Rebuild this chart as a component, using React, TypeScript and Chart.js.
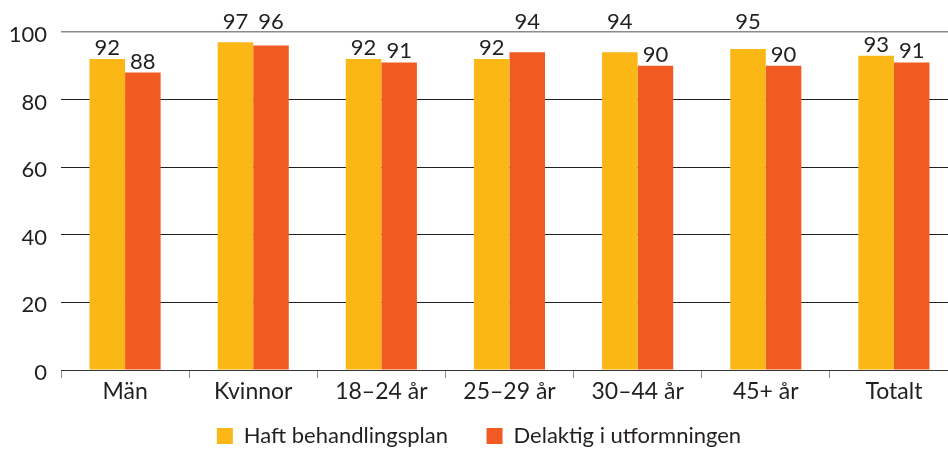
import React, { useEffect, useRef } from "react";
import { Chart, registerables } from "chart.js";

Chart.register(...registerables);

const categories = ["Män", "Kvinnor", "18–24 år", "25–29 år", "30–44 år", "45+ år", "Totalt"];
const haftBehandlingsplan = [92, 97, 92, 92, 94, 95, 93];
const delaktigUtformningen = [88, 96, 91, 94, 90, 90, 91];
const seriesLabels = ["Haft behandlingsplan", "Delaktig i utformningen"];
const seriesColors = ["#FBB716", "#F15A22"];
const yTicks = [0, 20, 40, 60, 80, 100];

const FONT = "Lato, 'Open Sans', sans-serif";
const TEXT = "#231f20";

const valueLabels = {
  id: "valueLabels",
  afterDatasetsDraw(chart: any) {
    const { ctx, chartArea } = chart;
    ctx.save();
    ctx.font = `22px ${FONT}`;
    ctx.fillStyle = TEXT;
    ctx.textAlign = "center";
    ctx.textBaseline = "alphabetic";
    chart.data.datasets.forEach((ds: any, i: number) => {
      const meta = chart.getDatasetMeta(i);
      meta.data.forEach((bar: any, j: number) => {
        let y = bar.y - 4;
        // labels that would cross the top gridline are lifted above it
        if (y - 16 < chartArea.top + 2) y = chartArea.top - 3;
        ctx.fillText(String(ds.data[j]), bar.x, y);
      });
    });
    ctx.restore();
  },
};

export default function App() {
  const ref = useRef<HTMLCanvasElement | null>(null);

  useEffect(() => {
    if (!ref.current) return;
    const chart = new Chart(ref.current, {
      type: "bar",
      data: {
        labels: categories,
        datasets: [
          {
            label: seriesLabels[0],
            data: haftBehandlingsplan,
            backgroundColor: seriesColors[0],
            borderWidth: 0,
            categoryPercentage: 0.555,
            barPercentage: 1,
          },
          {
            label: seriesLabels[1],
            data: delaktigUtformningen,
            backgroundColor: seriesColors[1],
            borderWidth: 0,
            categoryPercentage: 0.555,
            barPercentage: 1,
          },
        ],
      },
      options: {
        animation: false,
        responsive: false,
        maintainAspectRatio: false,
        layout: { padding: { top: 32, left: 0, right: 0, bottom: 0 } },
        plugins: {
          tooltip: { enabled: false },
          legend: {
            position: "bottom",
            maxHeight: 40,
            labels: {
              boxWidth: 16,
              boxHeight: 16,
              padding: 16,
              color: TEXT,
              font: { family: FONT, size: 22 },
              generateLabels: (c: any) => {
                const items = (Chart as any).defaults.plugins.legend.labels.generateLabels(c);
                items[0].text = items[0].text + "    ";
                return items;
              },
            },
          },
        },
        scales: {
          x: {
            grid: {
              display: true,
              drawOnChartArea: false,
              drawTicks: true,
              tickLength: 8,
              color: "#8c8c8c",
              offset: true,
            },
            border: { display: true, color: "#333333", width: 1 },
            ticks: { color: TEXT, font: { family: FONT, size: 23 }, padding: 0 },
            afterFit: (s: any) => {
              s.height = 39;
            },
          },
          y: {
            min: 0,
            max: 100,
            afterBuildTicks: (s: any) => {
              s.ticks = yTicks.map((v) => ({ value: v }));
            },
            ticks: { color: TEXT, font: { family: FONT, size: 22 }, padding: 14, labelOffset: 3 },
            grid: {
              drawTicks: false,
              color: (c: any) => (c.tick && c.tick.value === 100 ? "#8c8c8c" : "#231f20"),
              lineWidth: (c: any) => (c.tick && c.tick.value === 100 ? 1.4 : 1),
            },
            border: { display: false },
            afterFit: (s: any) => {
              s.width = 61;
            },
          },
        },
      },
      plugins: [valueLabels],
    });
    return () => chart.destroy();
  }, []);

  return (
    <div style={{ position: "fixed", left: 0, top: 0, width: 948, height: 449, overflow: "hidden", background: "#fff" }}>
      <canvas ref={ref} width={958} height={449} style={{ width: 958, height: 449, display: "block" }} />
    </div>
  );
}
